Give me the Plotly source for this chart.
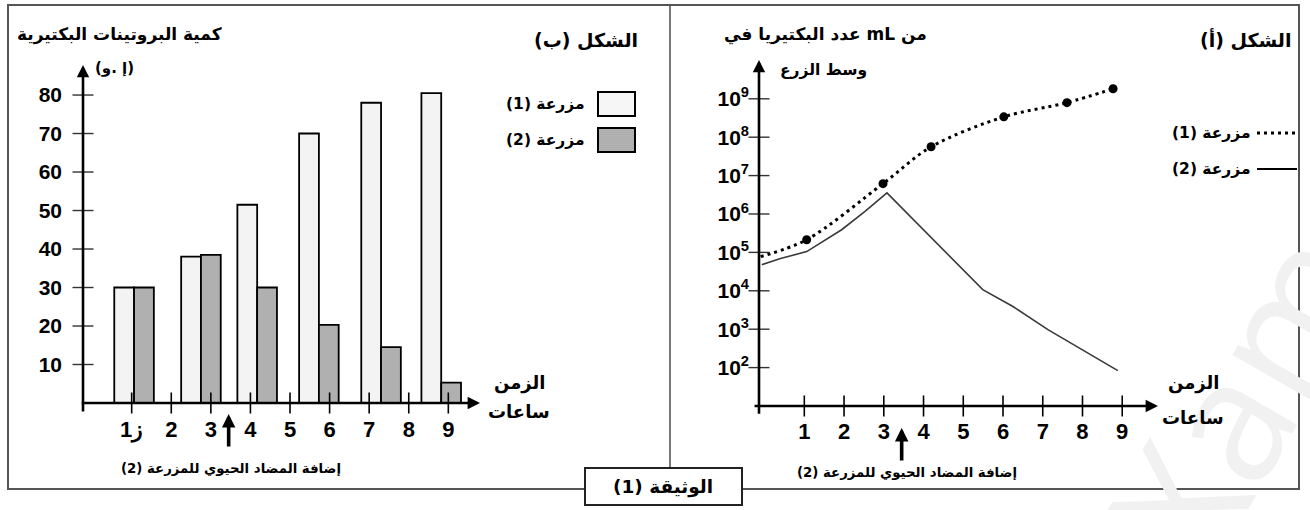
import plotly.graph_objects as go

W, H = 1310, 510

# ---------- panel (ب): amount of bacterial proteins (arbitrary units) ----------
sample_hours = [1.06, 2.75, 4.17, 5.73, 7.30, 8.82]
protein_culture1 = [30, 38, 51.5, 70, 78, 80.5]
protein_culture2 = [30, 38.5, 30, 20.3, 14.5, 5.3]
protein_ticks = [10, 20, 30, 40, 50, 60, 70, 80]

hour_ticks = [1, 2, 3, 4, 5, 6, 7, 8, 9]
hour_labels_b = ["ز1", "2", "3", "4", "5", "6", "7", "8", "9"]
hour_labels_a = ["1", "2", "3", "4", "5", "6", "7", "8", "9"]

# ---------- panel (أ): bacteria per mL of medium (exponents of ten) ----------
culture1_hours = [-0.10, 1.06, 2.98, 4.19, 6.02, 7.61, 8.77]
culture1_exp = [4.89, 5.33, 6.79, 7.75, 8.53, 8.90, 9.26]
culture2_hours = [-0.07, 0.40, 1.06, 1.46, 1.94, 2.52, 3.08, 5.49, 6.25, 7.13, 8.89]
culture2_exp = [4.68, 4.84, 5.02, 5.28, 5.59, 6.06, 6.55, 4.03, 3.59, 2.99, 1.92]
count_exp_ticks = [2, 3, 4, 5, 6, 7, 8, 9]

antibiotic_hour = 3.45

RLM = "\u200f"
LRM = "\u200e"
AR = "DejaVu Sans"
NUM = "Liberation Sans"


def px(x):
    return x / W


def py(y):
    return 1 - y / H


def rtl(s):
    return RLM + s + RLM


# axis ranges (left panel, right panel)
XB = [-0.23, 9.80]
YB = [0, 87.8]
XA = [-0.14, 9.90]
YA = [1.0, 10.01]

fig = go.Figure()

# bars, culture 1 (light) and culture 2 (grey)
fig.add_trace(go.Bar(
    x=sample_hours, y=protein_culture1, width=0.5, offset=-0.5,
    marker=dict(color="#f3f3f3", line=dict(color="black", width=1.8)),
    xaxis="x", yaxis="y", showlegend=False))
fig.add_trace(go.Bar(
    x=sample_hours, y=protein_culture2, width=0.5, offset=0,
    marker=dict(color="#b0b0b0", line=dict(color="black", width=1.8)),
    xaxis="x", yaxis="y", showlegend=False))

# crossing tick marks, panel (ب)
fig.add_trace(go.Scatter(
    x=hour_ticks, y=[0] * len(hour_ticks), mode="markers",
    marker=dict(symbol="line-ns", size=15, line=dict(color="black", width=1.6)),
    xaxis="x", yaxis="y", cliponaxis=False, showlegend=False, hoverinfo="skip"))
fig.add_trace(go.Scatter(
    x=[XB[0]] * len(protein_ticks), y=protein_ticks, mode="markers",
    marker=dict(symbol="line-ew", size=15, line=dict(color="#333", width=1.4)),
    xaxis="x", yaxis="y", cliponaxis=False, showlegend=False, hoverinfo="skip"))

# growth curves, panel (أ)
fig.add_trace(go.Scatter(
    x=culture1_hours, y=[10 ** e for e in culture1_exp], mode="lines",
    line=dict(color="black", width=3, dash="3px,4px", shape="spline", smoothing=0.9),
    xaxis="x2", yaxis="y2", showlegend=False))
fig.add_trace(go.Scatter(
    x=culture1_hours[1:], y=[10 ** e for e in culture1_exp[1:]], mode="markers",
    marker=dict(color="black", size=9),
    xaxis="x2", yaxis="y2", showlegend=False))
fig.add_trace(go.Scatter(
    x=culture2_hours, y=[10 ** e for e in culture2_exp], mode="lines",
    line=dict(color="#3a3a3a", width=1.6),
    xaxis="x2", yaxis="y2", showlegend=False))

# crossing tick marks, panel (أ)
fig.add_trace(go.Scatter(
    x=hour_ticks, y=[10 ** YA[0]] * len(hour_ticks), mode="markers",
    marker=dict(symbol="line-ns", size=15, line=dict(color="black", width=1.6)),
    xaxis="x2", yaxis="y2", cliponaxis=False, showlegend=False, hoverinfo="skip"))
fig.add_trace(go.Scatter(
    x=[XA[0]] * len(count_exp_ticks), y=[10 ** e for e in count_exp_ticks], mode="markers",
    marker=dict(symbol="line-ew", size=15, line=dict(color="#333", width=1.4)),
    xaxis="x2", yaxis="y2", cliponaxis=False, showlegend=False, hoverinfo="skip"))

common = dict(showgrid=False, zeroline=False, showline=False, ticks="", fixedrange=True)
numfont = dict(family=NUM, size=21, color="black", weight="bold")

fig.update_layout(
    width=W, height=H,
    margin=dict(l=0, r=0, t=0, b=0),
    paper_bgcolor="white", plot_bgcolor="rgba(0,0,0,0)",
    barmode="overlay",
    xaxis=dict(domain=[px(83), px(480)], range=XB, anchor="y",
               tickvals=hour_ticks, ticktext=hour_labels_b,
               tickfont=dict(family=NUM, size=22, color="black", weight="bold"),
               ticklabelstandoff=11, **common),
    yaxis=dict(domain=[py(403), py(65)], range=YB, anchor="x",
               tickvals=protein_ticks, tickfont=numfont,
               ticklabelstandoff=20, **common),
    xaxis2=dict(domain=[px(759), px(1158)], range=XA, anchor="y2",
                tickvals=hour_ticks, ticktext=hour_labels_a,
                tickfont=dict(family=NUM, size=22, color="black", weight="bold"),
                ticklabelstandoff=10, **common),
    yaxis2=dict(domain=[py(406), py(60)], type="log", range=YA, anchor="x2",
                tickvals=[10 ** e for e in count_exp_ticks],
                ticktext=["10<sup>%d</sup>" % e for e in count_exp_ticks],
                tickfont=numfont, ticklabelstandoff=9, **common),
)

ann = []

# faint watermark in the lower right corner
ann.append(dict(xref="paper", yref="paper", x=px(1238), y=py(395), text="Xam",
                showarrow=False, textangle=-60, xanchor="center", yanchor="middle",
                font=dict(family="Open Sans", size=170, color="#f1f1f1")))


def axis_arrow(xr, yr, x0, y0, x1, y1):
    ann.append(dict(xref=xr, yref=yr, axref=xr, ayref=yr, x=x1, y=y1, ax=x0, ay=y0,
                    text="", showarrow=True, arrowhead=2, arrowsize=0.95,
                    arrowwidth=2.6, arrowcolor="black"))


# axis lines with arrow heads
axis_arrow("x", "y", -0.30, 0, XB[1], 0)
axis_arrow("x", "y", XB[0], -2.6, XB[0], YB[1])
axis_arrow("x2", "y2", -0.29, YA[0], XA[1], YA[0])
axis_arrow("x2", "y2", XA[0], 0.76, XA[0], YA[1])

# antibiotic addition arrows
for xr, tip in (("x", 414), ("x2", 428)):
    ann.append(dict(xref=xr, yref="paper", x=antibiotic_hour, y=py(tip),
                    ax=0, ay=34, axref="pixel", ayref="pixel", text="",
                    showarrow=True, arrowhead=2, arrowsize=0.75, arrowwidth=3.6,
                    arrowcolor="black"))


def label(text, x, y, size, anchor="center"):
    ann.append(dict(xref="paper", yref="paper", x=px(x), y=py(y), text=text,
                    showarrow=False, xanchor=anchor, yanchor="middle",
                    font=dict(family=AR, size=size, color="black", weight="bold")))


# panel (ب) texts
label("كمية البروتينات البكتيرية", 15, 35, 17, "left")
label("(و" + LRM + ". " + LRM + "إ)", 115, 68, 15)
label(rtl("الشكل (ب)"), 640, 40, 19, "right")
label(rtl("مزرعة (1)"), 587, 104, 15.5, "right")
label(rtl("مزرعة (2)"), 587, 140, 15.5, "right")
label("الزمن", 519, 383, 18)
label("ساعات", 519, 411, 18)
label(rtl("إضافة المضاد الحيوي للمزرعة (2)"), 231, 468, 13.3)

# panel (أ) texts
label("عدد البكتيريا في mL من", 722, 35, 17, "left")
label("وسط الزرع", 823, 70, 15.5)
label(rtl("الشكل (أ)"), 1293, 40, 19, "right")
label(rtl("مزرعة (1)"), 1253, 133, 15.5, "right")
label(rtl("مزرعة (2)"), 1253, 169, 15.5, "right")
label("الزمن", 1193, 383, 18)
label("ساعات", 1193, 417, 18)
label(rtl("إضافة المضاد الحيوي للمزرعة (2)"), 907, 472, 13.3)

# document caption
label(rtl("الوثيقة (1)"), 663, 487, 18.5)

shapes = [
    # outer frame and divider
    dict(type="rect", xref="paper", yref="paper", x0=px(8), x1=px(1299), y0=py(489), y1=py(5),
         line=dict(color="#555", width=2), layer="below"),
    dict(type="line", xref="paper", yref="paper", x0=px(670), x1=px(670), y0=py(5), y1=py(468),
         line=dict(color="#555", width=1.6)),
    # caption box
    dict(type="rect", xref="paper", yref="paper", x0=px(585), x1=px(742), y0=py(505), y1=py(468),
         line=dict(color="#222", width=2), fillcolor="white"),
    # legend swatches, panel (ب)
    dict(type="rect", xref="paper", yref="paper", x0=px(598), x1=px(635), y0=py(116), y1=py(92),
         line=dict(color="black", width=2), fillcolor="#f6f6f6"),
    dict(type="rect", xref="paper", yref="paper", x0=px(598), x1=px(635), y0=py(152), y1=py(128),
         line=dict(color="black", width=2), fillcolor="#b0b0b0"),
    # legend lines, panel (أ)
    dict(type="line", xref="paper", yref="paper", x0=px(1257), x1=px(1297), y0=py(133), y1=py(133),
         line=dict(color="black", width=3, dash="3px,4px")),
    dict(type="line", xref="paper", yref="paper", x0=px(1257), x1=px(1297), y0=py(169), y1=py(169),
         line=dict(color="black", width=2)),
]

fig.update_layout(annotations=ann, shapes=shapes)

fig.write_html("out.html")
